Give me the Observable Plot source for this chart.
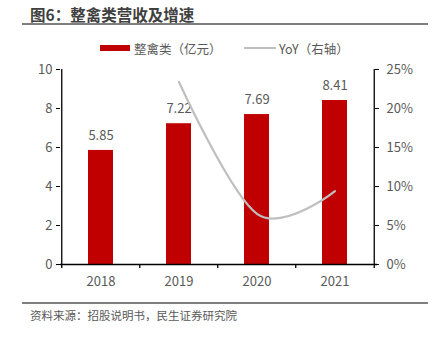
<!DOCTYPE html>
<html><head><meta charset="utf-8">
<script src="https://cdn.jsdelivr.net/npm/d3@7"></script>
<script src="https://cdn.jsdelivr.net/npm/@observablehq/plot@0.6"></script>
<style>
body{margin:0;background:#fff;font-family:"Noto Sans CJK SC","Noto Sans",sans-serif;}
#wrap{width:434px;height:340px;position:relative;overflow:hidden;}
#title{margin:0 6px 0 22px;height:23px;border-bottom:2px solid #7f7f7f;font-weight:bold;font-size:15.5px;color:#404040;line-height:28px;padding-left:8px;}
#legend{height:31px;position:relative;font-size:12.5px;color:#595959;}
.li{position:absolute;top:15px;display:flex;align-items:center;height:16px;}
.sw-bar{width:30px;height:6px;background:#C00000;margin-right:4px;}
.sw-line{width:32px;height:2px;background:#bfbfbf;margin-right:3px;}
#caption{margin:2px 6px 0 22px;border-top:2px solid #7f7f7f;font-size:11.5px;color:#595959;padding-left:8px;padding-top:3px;}
</style></head>
<body><div id="wrap">
<div id="title">图6：整禽类营收及增速</div>
<div id="legend">
  <div class="li" style="left:100px"><div class="sw-bar"></div>整禽类（亿元）</div>
  <div class="li" style="left:244px"><div class="sw-line"></div>YoY（右轴）</div>
</div>
<div id="chart"></div>
<div id="caption">资料来源：招股说明书，民生证券研究院</div>
</div>
<script>
const years = ["2018","2019","2020","2021"];
const revenue = [5.85, 7.22, 7.69, 8.41];
const yoyYears = ["2019","2020","2021"];
const yoy = [23.4, 6.5, 9.4];
const leftTicks = [0,2,4,6,8,10];
const rightTickLabels = ["0%","5%","10%","15%","20%","25%"];

const bars = years.map((y,i)=>({year:y, value:revenue[i]}));
const yoyData = yoyYears.map((y,i)=>({year:y, yoy:yoy[i], scaled: yoy[i]/2.5}));

const W = 434, ML = 60, MR = 60;
const half = (W - ML - MR) / years.length / 2;   // half a category step, px
const tickLen = -0.2;                           // boundary tick depth in y units (~4px)

const chart = Plot.plot({
  width:W, height:244,
  marginTop:13, marginBottom:36, marginLeft:ML, marginRight:MR,
  style:{fontFamily:'"Noto Sans CJK SC","Noto Sans",sans-serif', fontSize:"13px", color:"#595959", background:"#fff"},
  x:{domain:years, paddingInner:0.685, paddingOuter:0.3425, label:null},
  y:{domain:[0,10], label:null},
  marks:[
    Plot.barY(bars,{x:"year", y:"value", fill:"#C00000"}),
    Plot.text(bars,{x:"year", y:"value", text:d=>d.value.toFixed(2), dy:-15, fill:"#595959", fontSize:13}),
    Plot.line(yoyData,{x:"year", y:"scaled", stroke:"#bfbfbf", strokeWidth:2.2, curve:"cardinal", tension:0}),
    Plot.axisY({anchor:"left", ticks:leftTicks, tickSize:4, tickPadding:4, stroke:"#000", strokeOpacity:1, fill:"#595959", fontSize:13, label:null}),
    Plot.axisY({anchor:"right", ticks:leftTicks, tickFormat:(d)=>rightTickLabels[leftTicks.indexOf(d)], tickSize:4, tickPadding:8, stroke:"#000", strokeOpacity:1, fill:"#595959", fontSize:13, label:null}),
    Plot.axisX({tickSize:0, tickPadding:12, fill:"#595959", fontSize:13, label:null}),
    // axis lines
    Plot.ruleX([years[0]], {dx:-half, stroke:"#000", strokeWidth:1.3}),
    Plot.ruleX([years[years.length-1]], {dx:half, stroke:"#000", strokeWidth:1.3}),
    Plot.ruleY([0], {stroke:"#000", strokeWidth:1.3, insetRight:-3}),
    // category boundary ticks
    Plot.ruleX(years, {x:d=>d, dx:-half, y1:0, y2:tickLen, stroke:"#000", strokeWidth:1.3}),
    Plot.ruleX([years[years.length-1]], {dx:half, y1:0, y2:tickLen, stroke:"#000", strokeWidth:1.3})
  ]
});
document.getElementById("chart").appendChild(chart);
</script>
</body></html>
